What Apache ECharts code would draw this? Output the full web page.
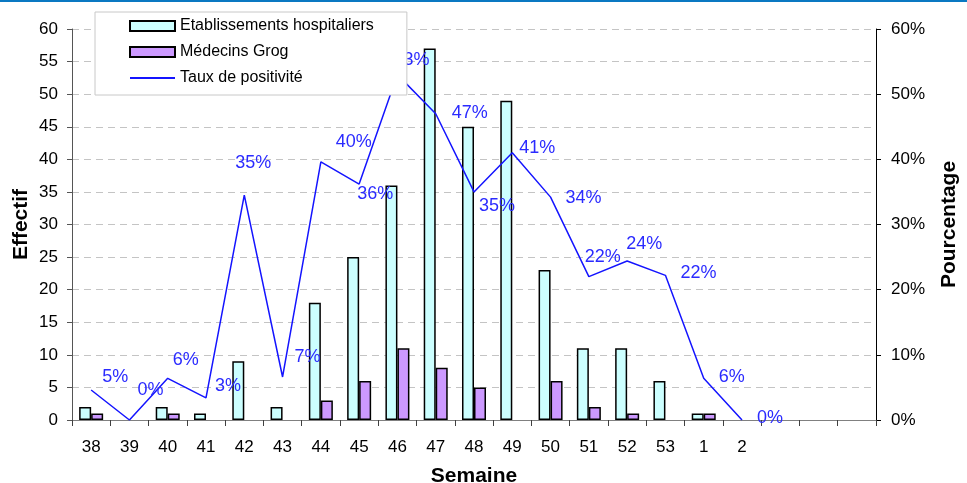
<!DOCTYPE html>
<html>
<head>
<meta charset="utf-8">
<script src="https://cdn.jsdelivr.net/npm/echarts@6/dist/echarts.min.js"></script>
<style>
  html, body { margin: 0; padding: 0; background: #ffffff; }
  #chart { width: 967px; height: 483px; }
</style>
</head>
<body>
<div id="chart"></div>
<script>
// semaines (3 empty slots at the end, as in the original)
const weeks = ["38", "39", "40", "41", "42", "43", "44", "45", "46", "47", "48", "49", "50", "51", "52", "53", "1", "2", "", "", ""];
const etablissements = [2, 0, 2, 1, 9, 2, 18, 25, 36, 57, 45, 49, 23, 11, 11, 6, 1, 0];
const medecinsGrog = [1, 0, 1, 0, 0, 0, 3, 6, 11, 8, 5, 0, 6, 2, 1, 0, 1, 0];
const tauxPositivite = [4.6, 0, 6.4, 3.4, 34.5, 6.6, 39.6, 36.2, 53, 47, 35, 41, 34.2, 22, 24.4, 22.2, 6.4, 0];

// hand-placed data labels (dx, dy from the point)
const labelOffsets = [
  [24, -13], [21, -30], [18, -18], [22, -12], [9, -32], [25, -20], [33, -20], [16, 10], [14, -15],
  [34, -1], [23, 14], [25, -5], [33, 1], [14, -20], [17, -17], [33, -2], [28, -1], [28, -2]
];

let myChart = echarts.init(document.getElementById("chart"));

// empty bars are not drawn in the original
let noZero = (v) => (v === 0 ? "-" : v);

let lineData = tauxPositivite.map((v, i) => ({
  value: v,
  label: { offset: labelOffsets[i] },
}));

let axisFont = { fontFamily: "Liberation Sans, Arial, sans-serif", fontSize: 17, color: "#000" };
let nameFont = { fontFamily: "Liberation Sans, Arial, sans-serif", fontSize: 21, fontWeight: "bold", color: "#000" };

let option = {
  backgroundColor: "#ffffff",
  animation: false,
  graphic: [
    { type: "rect", left: 0, top: 0, shape: { width: 967, height: 2 }, style: { fill: "#0a78c2" } },
  ],
  legend: {
    orient: "vertical",
    left: 95,
    top: 12,
    padding: [6, 33, 9, 34],
    itemWidth: 45,
    itemHeight: 10,
    itemGap: 10,
    backgroundColor: "#ffffff",
    borderColor: "#c8c8c8",
    borderWidth: 1,
    selectedMode: false,
    textStyle: { fontFamily: "Liberation Sans, Arial, sans-serif", fontSize: 16, color: "#000", lineHeight: 16 },
    data: [
      { name: "Etablissements hospitaliers", icon: "rect" },
      { name: "Médecins Grog", icon: "rect" },
      { name: "Taux de positivité" },
    ],
  },
  grid: {
    left: 72,
    right: 91,
    top: 29,
    bottom: 63,
    outerBoundsMode: "none",
  },
  xAxis: {
    type: "category",
    data: weeks,
    name: "Semaine",
    nameLocation: "middle",
    nameGap: 46,
    nameTextStyle: nameFont,
    axisLine: { lineStyle: { color: "#808080", width: 1 } },
    axisTick: { show: true, interval: 0, length: 6, lineStyle: { color: "#404040" } },
    axisLabel: Object.assign({ interval: 0, margin: 19 }, axisFont),
  },
  yAxis: [
    {
      type: "value",
      min: 0,
      max: 60,
      interval: 5,
      name: "Effectif",
      nameLocation: "middle",
      nameGap: 40,
      nameMoveOverlap: false,
      nameTextStyle: nameFont,
      axisLine: { show: true, lineStyle: { color: "#555", width: 1 } },
      axisTick: { show: true, length: 5, lineStyle: { color: "#555" } },
      axisLabel: Object.assign({ margin: 14 }, axisFont),
      splitLine: { show: true, lineStyle: { color: "#c4c4c4", type: [7, 5], width: 1 } },
    },
    {
      type: "value",
      min: 0,
      max: 60,
      interval: 10,
      position: "right",
      name: "Pourcentage",
      nameLocation: "middle",
      nameGap: 63,
      nameRotate: 90,
      nameTextStyle: nameFont,
      axisLine: { show: true, lineStyle: { color: "#000", width: 1 } },
      axisTick: { show: true, length: 5, lineStyle: { color: "#000" } },
      axisLabel: Object.assign({ margin: 15, formatter: "{value}%" }, axisFont),
      splitLine: { show: false },
    },
  ],
  series: [
    {
      name: "Etablissements hospitaliers",
      type: "bar",
      data: etablissements.map(noZero),
      barWidth: 12,
      barGap: "0%",
      itemStyle: { color: "#ccffff", borderColor: "#000", borderWidth: 1.5 },
    },
    {
      name: "Médecins Grog",
      type: "bar",
      data: medecinsGrog.map(noZero),
      barWidth: 12,
      barGap: "0%",
      itemStyle: { color: "#cc99ff", borderColor: "#000", borderWidth: 1.5 },
    },
    {
      name: "Taux de positivité",
      type: "line",
      yAxisIndex: 1,
      data: lineData,
      symbol: "circle",
      symbolSize: 0,
      itemStyle: { color: "transparent" },
      lineStyle: { color: "#1414ff", width: 1.5 },
      label: {
        show: true,
        position: "inside",
        color: "#2b2bff",
        fontFamily: "Liberation Sans, Arial, sans-serif",
        fontSize: 18,
        formatter: (p) => Math.round(p.value) + "%",
      },
    },
  ],
};
myChart.setOption(option);
</script>
</body>
</html>
